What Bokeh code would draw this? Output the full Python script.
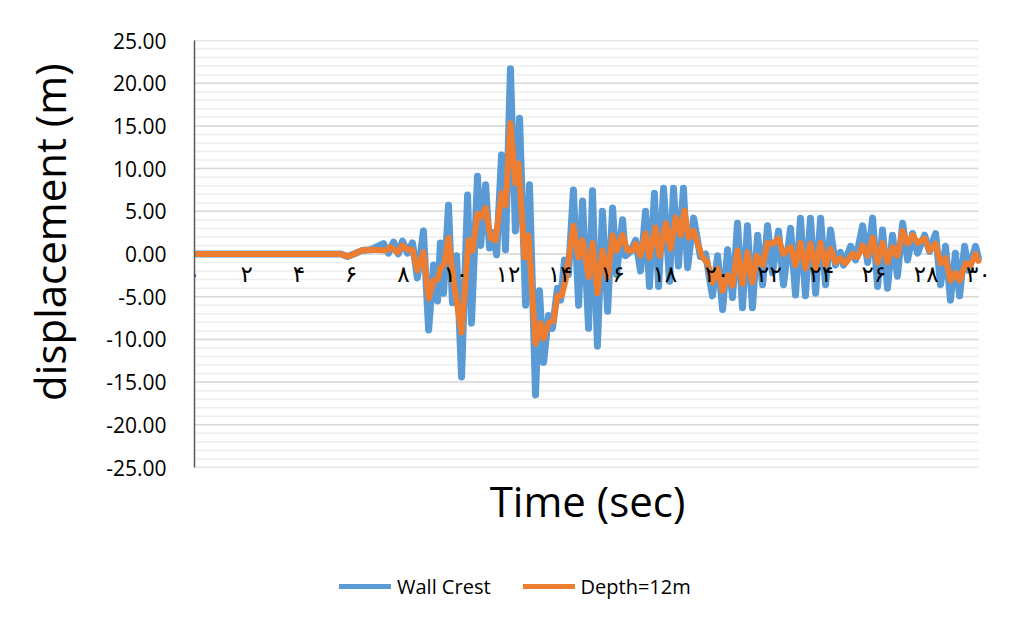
from bokeh.plotting import figure
from bokeh.layouts import column
from bokeh.models import (ColumnDataSource, FixedTicker, NumeralTickFormatter,
                          Legend, LegendItem, Range1d, LinearAxis)
from bokeh.embed import file_html
from bokeh.resources import INLINE

# Wall crest displacement history (time in s, displacement in m)
wall_time = [0.0, 5.6, 5.85, 6.1, 6.4, 6.74,
             7.23, 7.42, 7.62, 7.8, 7.96, 8.15, 8.34, 8.53, 8.76, 8.96,
             9.15, 9.30, 9.41, 9.53, 9.72, 9.87, 10.03, 10.22, 10.45, 10.60,
             10.83, 10.95, 11.14, 11.29, 11.44, 11.56, 11.75, 11.90, 12.09, 12.28,
             12.44, 12.67, 12.82, 13.05, 13.20, 13.36, 13.55, 13.70, 13.89, 14.01,
             14.16, 14.31, 14.50, 14.70, 14.85, 15.08, 15.23, 15.42, 15.61, 15.81,
             16.00, 16.15, 16.38, 16.49, 16.69, 16.88, 17.07, 17.26, 17.41, 17.60,
             17.76, 17.95, 18.18, 18.33, 18.52, 18.71, 18.87, 19.10, 19.36, 19.56,
             19.82, 20.02, 20.21, 20.40, 20.59, 20.78, 20.97, 21.16, 21.35, 21.55,
             21.74, 21.93, 22.12, 22.35, 22.54, 22.81, 23.00, 23.19, 23.38, 23.57,
             23.77, 23.96, 24.15, 24.34, 24.53, 24.72, 24.84, 25.11, 25.30, 25.57,
             25.76, 25.95, 26.14, 26.33, 26.52, 26.71, 26.90, 27.10, 27.29, 27.48,
             27.67, 27.94, 28.13, 28.36, 28.55, 28.74, 28.93, 29.12, 29.28, 29.47,
             29.62, 29.89, 30.0]
wall_disp = [0.0, 0.0, -0.3, 0.0, 0.4, 0.5,
             1.2, 0.1, 1.4, 0.0, 1.5, 0.1, 1.3, -2.8, 2.7, -8.9,
             -1.3, -5.5, 1.3, -4.6, 5.7, -5.7, -0.2, -14.4, 6.9, -8.1,
             9.1, 1.0, 8.1, 0.7, 2.5, -0.1, 11.6, 0.5, 21.7, 2.7,
             15.9, -6.0, 8.1, -16.5, -4.3, -12.7, -7.2, -8.7, -4.0, -5.4,
             -0.7, -2.4, 7.5, -6.0, 6.2, -8.7, 7.4, -10.8, 5.0, -6.7,
             5.4, -2.4, 4.0, -0.2, 0.3, 1.6, -2.0, 5.0, -3.8, 7.1,
             -3.8, 7.7, -3.2, 7.7, -1.4, 7.7, -1.6, 4.2, -0.3, 0.0,
             -4.9, -0.2, -6.5, 0.5, -5.1, 3.6, -6.3, 3.3, -6.3, 2.2,
             -3.6, 3.3, -2.2, 2.7, -3.6, 3.0, -4.8, 4.2, -4.9, 4.2,
             -4.6, 4.2, -3.6, 2.8, -1.3, 0.2, -1.3, 0.9, -0.7, 3.3,
             -1.0, 4.2, -3.8, 2.8, -4.0, 2.2, -2.6, 3.6, -0.7, 2.4,
             0.1, 2.2, 0.3, 2.4, -3.6, 0.9, -5.4, 0.1, -4.9, 0.9,
             -1.9, 0.9, -0.5]

# Displacement history at 12 m depth
depth_time = [0.0, 5.6, 5.85, 6.1, 6.4, 6.74,
              7.31, 7.50, 7.77, 7.96, 8.15, 8.34, 8.53, 8.76, 8.96,
              9.15, 9.30, 9.41, 9.57, 9.72, 9.91, 10.22, 10.49, 10.64, 10.83,
              10.95, 11.14, 11.33, 11.52, 11.75, 11.90, 12.09, 12.28, 12.40, 12.63,
              12.78, 13.05, 13.24, 13.36, 13.55, 13.74, 13.89, 14.05, 14.20, 14.50,
              14.70, 14.85, 15.08, 15.23, 15.42, 15.61, 15.81, 16.00, 16.15, 16.38,
              16.57, 16.76, 16.88, 17.07, 17.26, 17.41, 17.64, 17.80, 18.03, 18.22,
              18.41, 18.60, 18.75, 18.91, 19.10, 19.44, 19.63, 19.82, 20.02, 20.21,
              20.40, 20.59, 20.78, 20.97, 21.16, 21.35, 21.51, 21.74, 21.93, 22.12,
              22.35, 22.54, 22.81, 23.00, 23.19, 23.38, 23.57, 23.77, 23.96, 24.15,
              24.34, 24.53, 24.72, 24.91, 25.18, 25.37, 25.57, 25.76, 25.95, 26.14,
              26.33, 26.52, 26.71, 26.90, 27.10, 27.29, 27.48, 27.67, 27.94, 28.13,
              28.36, 28.55, 28.74, 28.93, 29.12, 29.28, 29.51, 29.70, 29.89, 30.0]
depth_disp = [0.0, 0.0, -0.3, 0.0, 0.4, 0.5,
              0.4, 0.8, 0.2, 1.0, 0.5, 0.5, -1.9, 0.2, -5.2,
              -3.1, -3.0, -1.7, -1.1, 1.9, -3.1, -9.2, 1.6, 0.4, 4.7,
              4.3, 5.4, 1.9, 1.6, 7.1, 5.7, 15.3, 8.3, 10.6, -0.4,
              2.2, -10.5, -8.1, -9.9, -8.1, -7.8, -4.9, -4.9, -3.1, 3.3,
              -0.4, 1.6, -2.7, 1.3, -4.6, 0.4, -2.7, 2.2, 0.4, 2.2,
              0.4, 0.4, 1.2, -0.2, 2.4, -0.4, 3.1, -0.2, 3.6, 0.6,
              4.3, 2.2, 5.1, 1.9, 2.7, -0.4, -1.0, -3.3, -1.7, -4.3,
              -2.5, -3.7, 0.4, -3.5, 0.2, -3.3, -0.2, -1.3, 1.3, 1.2,
              1.8, 0.0, 0.8, -1.3, 1.3, -1.7, 1.2, -1.7, 1.3, -1.3,
              0.6, -1.0, -0.5, -1.1, 0.0, -0.4, 1.0, -0.2, 1.9, -1.0,
              1.3, -1.0, 0.8, -0.2, 2.7, 1.2, 2.2, 1.3, 1.8, 0.4,
              1.2, -1.1, -0.5, -3.1, -2.2, -3.1, -1.1, -1.3, 0.0, -0.8]

# Time axis ticks and their Persian-digit labels
time_ticks = [0, 2, 4, 6, 8, 10, 12, 14, 16, 18, 20, 22, 24, 26, 28, 30]
time_labels = ["۰", "۲", "۴", "۶", "۸", "۱۰", "۱۲", "۱۴", "۱۶", "۱۸",
               "۲۰", "۲۲", "۲۴", "۲۶", "۲۸", "۳۰"]
time_span = (0, 30)

disp_major = list(range(-25, 26, 5))
disp_minor = list(range(-25, 26, 1))

series_names = ["Wall Crest", "Depth=12m"]
series_colors = ["#5B9BD5", "#ED7D31"]
series_widths = [7, 6]

wall_src = ColumnDataSource(dict(t=wall_time, d=wall_disp))
depth_src = ColumnDataSource(dict(t=depth_time, d=depth_disp))
sources = [wall_src, depth_src]

# ---- main chart ----
# The x range runs a little past 30 s so the last tick label is not clipped;
# the grid is drawn only over the 0-30 s span.
p = figure(width=1009, height=560, output_backend="svg", toolbar_location=None,
           x_range=Range1d(time_span[0], time_span[1] + 0.5),
           y_range=Range1d(-25, 25),
           min_border_left=194, min_border_right=18,
           min_border_top=40, min_border_bottom=93)
p.outline_line_color = None
p.background_fill_color = "white"
p.border_fill_color = "white"
p.xgrid.visible = False
p.ygrid.visible = False

# Horizontal grid lines over the time span: minor every 1 m, major every 5 m
n_minor = len(disp_minor)
p.segment(x0=[time_span[0]] * n_minor, x1=[time_span[1]] * n_minor,
          y0=disp_minor, y1=disp_minor, line_color="#eeeeee", line_width=1.5)
n_major = len(disp_major)
p.segment(x0=[time_span[0]] * n_major, x1=[time_span[1]] * n_major,
          y0=disp_major, y1=disp_major, line_color="#d9d9d9", line_width=1.5)

# Vertical axis
yax = p.yaxis[0]
yax.ticker = FixedTicker(ticks=disp_major, minor_ticks=disp_minor)
yax.formatter = NumeralTickFormatter(format="0.00")
yax.axis_line_color = "#595959"
yax.axis_line_width = 1.5
yax.major_tick_line_color = None
yax.minor_tick_line_color = None
yax.major_label_standoff = 22
yax.major_label_text_font = "Open Sans"
yax.major_label_text_font_size = "21px"
yax.major_label_text_color = "black"
yax.axis_label = "\u00a0\u00a0\u00a0\u00a0displacement (m)"
yax.axis_label_text_font = "Open Sans"
yax.axis_label_text_font_size = "42px"
yax.axis_label_text_font_style = "normal"
yax.axis_label_text_color = "black"
yax.axis_label_standoff = 25

# Time axis drawn across the zero line, with Persian-digit tick labels
xax = p.xaxis[0]
xax.fixed_location = 0
xax.ticker = FixedTicker(ticks=time_ticks)
xax.major_label_overrides = {t: s for t, s in zip(time_ticks, time_labels)}
xax.axis_line_color = None
xax.major_tick_line_color = None
xax.minor_tick_line_color = None
xax.major_label_standoff = 1
xax.major_label_text_font = "DejaVu Sans"
xax.major_label_text_font_size = "23px"
xax.major_label_text_color = "black"

# Separate axis below the chart carrying only the title
title_axis = LinearAxis(ticker=FixedTicker(ticks=[]), axis_line_color=None,
                        major_tick_line_color=None, minor_tick_line_color=None,
                        axis_label="Time (sec)\u00a0", axis_label_text_font="Open Sans",
                        axis_label_text_font_size="42px",
                        axis_label_text_font_style="normal",
                        axis_label_text_color="black", axis_label_standoff=4)
p.add_layout(title_axis, "below")

for src, col, w in zip(sources, series_colors, series_widths):
    p.line("t", "d", source=src, line_color=col, line_width=w,
           line_join="round", line_cap="round")

# ---- legend strip below the chart ----
lg = figure(width=1009, height=58, output_backend="svg", toolbar_location=None,
            x_range=Range1d(-100, -99), y_range=Range1d(-100, -99),
            x_axis_type=None, y_axis_type=None,
            min_border_left=0, min_border_right=0,
            min_border_top=0, min_border_bottom=0)
lg.outline_line_color = None
lg.grid.visible = False
items = []
for src, col, name in zip(sources, series_colors, series_names):
    r = lg.line("t", "d", source=src, line_color=col, line_width=5,
                line_cap="round")
    items.append(LegendItem(label=name, renderers=[r]))
legend = Legend(items=items, orientation="horizontal", location=(145, 17),
                glyph_width=52, glyph_height=30, label_height=30,
                label_standoff=6, spacing=32, padding=0, margin=0,
                border_line_color=None, background_fill_alpha=0,
                label_text_font="Open Sans", label_text_font_size="20px",
                label_text_color="black")
lg.add_layout(legend, "center")

layout = column(p, lg, spacing=0)
open("out.html", "w").write(file_html(layout, INLINE))
